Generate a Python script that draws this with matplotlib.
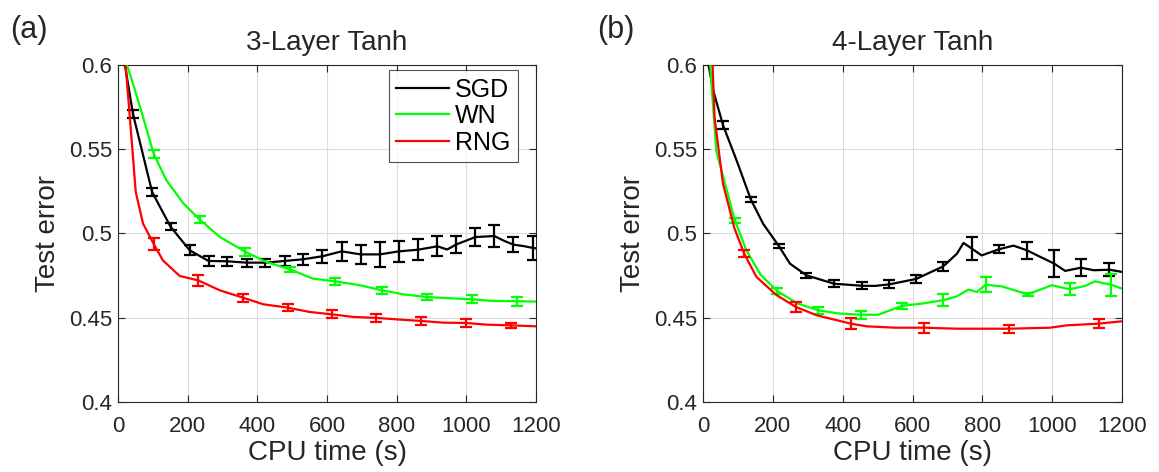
import numpy as np
import matplotlib
matplotlib.use('Agg')
import matplotlib.pyplot as plt

plt.rcParams['font.family'] = ['Liberation Sans', 'DejaVu Sans']

# ---- (a) 3-Layer Tanh ----
a_sgd_x = [8, 43, 98, 151, 206, 260, 314, 369, 423, 478, 531, 587, 642, 697, 752,
           806, 862, 917, 945, 970, 1026, 1080, 1110, 1135, 1165, 1192, 1200]
a_sgd_y = [0.615, 0.571, 0.5246, 0.504, 0.490, 0.4837, 0.4835, 0.4827, 0.4827, 0.4837,
           0.4847, 0.4865, 0.4894, 0.4876, 0.4876, 0.4894, 0.4904, 0.4924, 0.4905,
           0.4934, 0.4979, 0.4985, 0.4955, 0.4934, 0.4925, 0.4914, 0.4912]
a_sgd_bx = [43, 98, 151, 206, 260, 314, 369, 423, 478, 531, 587, 642, 697, 752,
            806, 862, 917, 970, 1026, 1080, 1135, 1192]
a_sgd_by = [0.571, 0.5246, 0.504, 0.490, 0.4837, 0.4835, 0.4827, 0.4827, 0.4837, 0.4847,
            0.4865, 0.4894, 0.4876, 0.4876, 0.4894, 0.4904, 0.4924, 0.4934, 0.4979,
            0.4985, 0.4934, 0.4914]
a_sgd_be = [0.0024, 0.0024, 0.002, 0.003, 0.003, 0.0026, 0.0024, 0.0024, 0.0028, 0.0034,
            0.004, 0.0055, 0.0055, 0.0075, 0.0063, 0.0063, 0.006, 0.005, 0.0053,
            0.0065, 0.0044, 0.007]

a_wn_x = [10, 43, 72, 103, 139, 187, 235, 292, 365, 426, 495, 560, 624, 694, 757,
          819, 886, 943, 1017, 1077, 1146, 1200]
a_wn_y = [0.61, 0.589, 0.569, 0.547, 0.5316, 0.518, 0.5082, 0.498, 0.4892, 0.4831,
          0.4786, 0.4732, 0.4716, 0.4693, 0.4663, 0.4639, 0.4623, 0.4617, 0.4609,
          0.4600, 0.4598, 0.4596]
a_wn_bx = [103, 235, 365, 495, 624, 757, 886, 1017, 1146]
a_wn_by = [0.547, 0.5082, 0.4892, 0.4786, 0.4716, 0.4663, 0.4623, 0.4609, 0.4598]
a_wn_be = [0.0024, 0.002, 0.0024, 0.0014, 0.002, 0.002, 0.002, 0.0024, 0.0028]

a_rng_x = [12, 34, 51, 72, 102, 129, 177, 230, 292, 359, 417, 487, 551, 615, 675,
           742, 809, 870, 934, 999, 1058, 1127, 1200]
a_rng_y = [0.625, 0.569, 0.5246, 0.5058, 0.494, 0.484, 0.4748, 0.4722, 0.4663, 0.4619,
           0.458, 0.456, 0.4534, 0.452, 0.4505, 0.4499, 0.4489, 0.4481, 0.4471, 0.4469,
           0.4459, 0.4455, 0.4449]
a_rng_bx = [102, 230, 359, 487, 615, 742, 870, 999, 1127]
a_rng_by = [0.494, 0.4722, 0.4619, 0.456, 0.452, 0.4499, 0.4481, 0.4469, 0.4455]
a_rng_be = [0.0036, 0.0032, 0.0024, 0.002, 0.0024, 0.0024, 0.0024, 0.0022, 0.0014]

# ---- (b) 4-Layer Tanh ----
b_sgd_x = [5, 29, 57, 96, 137, 172, 217, 249, 296, 375, 454, 492, 533, 610, 688, 727,
           746, 770, 798, 847, 889, 928, 966, 1006, 1037, 1082, 1119, 1164, 1200]
b_sgd_y = [0.612, 0.585, 0.5644, 0.5434, 0.5201, 0.5058, 0.4926, 0.4821, 0.4752, 0.4702,
           0.469, 0.4689, 0.4698, 0.473, 0.4805, 0.488, 0.4944, 0.491, 0.487, 0.4906,
           0.4928, 0.490, 0.4861, 0.4821, 0.4778, 0.4797, 0.4782, 0.4785, 0.4772]
b_sgd_bx = [57, 137, 217, 296, 375, 454, 533, 610, 688, 770, 847, 928, 1006, 1082, 1164]
b_sgd_by = [0.5644, 0.5201, 0.4926, 0.4752, 0.4702, 0.469, 0.4698, 0.473, 0.4805, 0.491,
            0.4906, 0.490, 0.4821, 0.4797, 0.4785]
b_sgd_be = [0.0024, 0.0016, 0.001, 0.0016, 0.002, 0.002, 0.0024, 0.0024, 0.0028, 0.007,
            0.0024, 0.005, 0.008, 0.005, 0.004]

b_wn_x = [10, 38, 91, 124, 165, 212, 270, 330, 390, 451, 502, 569, 630, 688, 727, 760,
          784, 810, 856, 930, 999, 1050, 1095, 1122, 1169, 1200]
b_wn_y = [0.63, 0.549, 0.5078, 0.49, 0.4755, 0.4659, 0.4585, 0.4544, 0.4525, 0.4518,
          0.4518, 0.457, 0.4585, 0.4604, 0.4627, 0.4667, 0.4653, 0.4696, 0.4686, 0.4639,
          0.4693, 0.4669, 0.4689, 0.4716, 0.4696, 0.4673]
b_wn_bx = [91, 212, 330, 451, 569, 688, 810, 930, 1050, 1169]
b_wn_by = [0.5078, 0.4659, 0.4544, 0.4518, 0.457, 0.4604, 0.4696, 0.4639, 0.4669, 0.4696]
b_wn_be = [0.0016, 0.0016, 0.002, 0.0024, 0.002, 0.0036, 0.0044, 0.0008, 0.0036, 0.0065]

b_rng_x = [20, 33, 57, 90, 118, 153, 210, 266, 325, 423, 469, 550, 634, 727, 877,
           994, 1042, 1133, 1200]
b_rng_y = [0.64, 0.569, 0.5296, 0.503, 0.488, 0.4742, 0.4635, 0.4564, 0.4515, 0.4465,
           0.4449, 0.4441, 0.4441, 0.4435, 0.4435, 0.4441, 0.4455, 0.4465, 0.4479]
b_rng_bx = [118, 266, 423, 634, 877, 1133]
b_rng_by = [0.488, 0.4564, 0.4465, 0.4441, 0.4435, 0.4465]
b_rng_be = [0.002, 0.0028, 0.0034, 0.003, 0.0024, 0.0028]

labels = ['SGD', 'WN', 'RNG']
colors = ['black', '#00ff00', '#ff0000']
txt = '#262626'

fig = plt.figure(figsize=(11.59, 4.72), dpi=100)
ax1 = fig.add_axes([0.1018, 0.1483, 0.3607, 0.714])
ax2 = fig.add_axes([0.6066, 0.1483, 0.3615, 0.714])

panels = [
    (ax1, '3-Layer Tanh',
     [(a_sgd_x, a_sgd_y, a_sgd_bx, a_sgd_by, a_sgd_be),
      (a_wn_x, a_wn_y, a_wn_bx, a_wn_by, a_wn_be),
      (a_rng_x, a_rng_y, a_rng_bx, a_rng_by, a_rng_be)]),
    (ax2, '4-Layer Tanh',
     [(b_sgd_x, b_sgd_y, b_sgd_bx, b_sgd_by, b_sgd_be),
      (b_wn_x, b_wn_y, b_wn_bx, b_wn_by, b_wn_be),
      (b_rng_x, b_rng_y, b_rng_bx, b_rng_by, b_rng_be)]),
]

for ax, title, series in panels:
    for (lx, ly, bx, by, be), lab, c in zip(series, labels, colors):
        ax.plot(lx, ly, color=c, lw=1.6, label=lab, zorder=3)
        ax.errorbar(bx, by, yerr=be, fmt='none', ecolor=c, elinewidth=1.6,
                    capsize=4.5, capthick=1.6, zorder=3)
    ax.set_xlim(0, 1200)
    ax.set_ylim(0.4, 0.6)
    ax.set_xticks([0, 200, 400, 600, 800, 1000, 1200])
    ax.set_yticks([0.4, 0.45, 0.5, 0.55, 0.6])
    ax.set_yticklabels(['0.4', '0.45', '0.5', '0.55', '0.6'])
    ax.grid(True, color='#dcdcdc', lw=0.8)
    ax.set_axisbelow(True)
    ax.tick_params(direction='in', top=True, right=True, length=5, width=0.8,
                   labelsize=16, colors=txt)
    ax.tick_params(axis='x', pad=10)
    ax.tick_params(axis='y', pad=4)
    for sp in ax.spines.values():
        sp.set_color(txt)
        sp.set_linewidth(0.8)
    ax.set_xlabel('CPU time (s)', fontsize=20, color=txt, labelpad=2)
    ax.set_ylabel('Test error', fontsize=20, color=txt, labelpad=6)
    ax.set_title(title, fontsize=20, color=txt, pad=11)

fig.text(0.009, 0.92, '(a)', fontsize=22, color=txt)
fig.text(0.515, 0.92, '(b)', fontsize=22, color=txt)

# legend box placed where the reference has it (upper right of panel a)
leg = ax1.legend(loc='upper left', bbox_to_anchor=(0.648, 0.985), borderaxespad=0,
                 fontsize=18, frameon=True, fancybox=False, edgecolor=txt,
                 handlelength=2.1, borderpad=0.3, labelspacing=0.1,
                 handletextpad=0.25)
leg.get_frame().set_linewidth(0.8)
for t in leg.get_texts():
    t.set_color('black')

fig.savefig('out.png', dpi=100)
